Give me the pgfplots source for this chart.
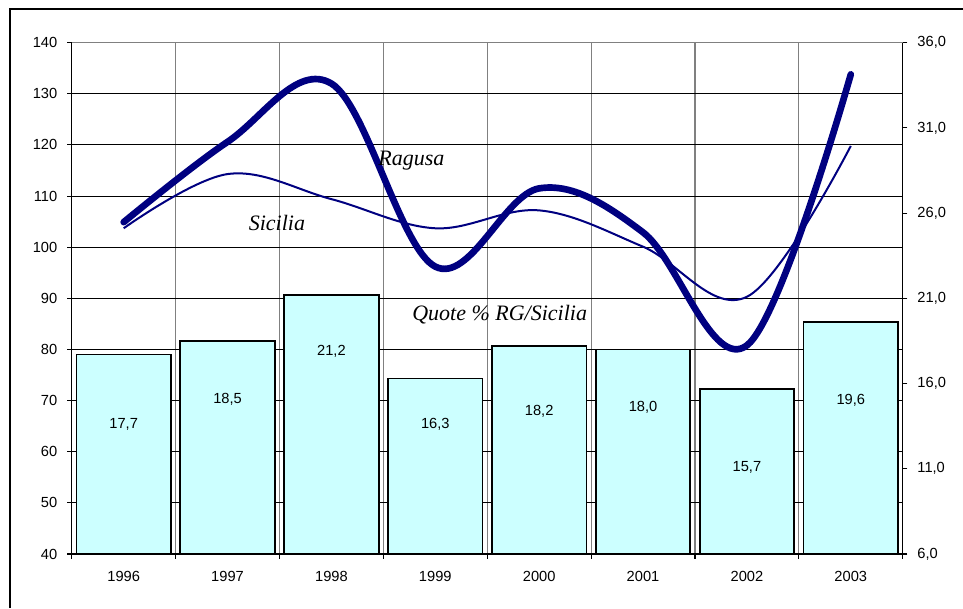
\documentclass[border=0pt]{standalone}
\usepackage{pgfplots}
\pgfplotsset{compat=1.18}
\usepackage{pgfplotstable}
\usepackage{fontspec}
\setmainfont{Liberation Sans}
\newfontfamily\serifit{Liberation Serif}
\definecolor{Navy}{HTML}{000080}
\definecolor{BarFill}{HTML}{CCFFFF}

% indici Ragusa / Sicilia (asse sinistro)
\pgfplotstableread{
x rg sic
0 104.9 103.7
1 120.6 114.3
2 132.0 109.4
3 96.2 103.7
4 111.5 107.2
5 102.9 100.1
6 80.8 90.3
7 133.8 119.8
}\lines

% quote % RG/Sicilia (asse destro), pos = altezza etichetta
\pgfplotstableread{
x quota pos
0 17.7 13.63
1 18.5 15.08
2 21.2 17.87
3 16.3 13.63
4 18.2 14.35
5 18.0 14.59
6 15.7 11.09
7 19.6 15.04
}\quote

\begin{document}
\begin{tikzpicture}
\useasboundingbox (-53.8pt,-40.5pt) rectangle (668.45pt,415.5pt);
\pgfplotsset{base/.style={
  scale only axis, width=623.25pt, height=383.5pt,
  xmin=-0.5, xmax=7.5,
  ticklabel style={font=\fontsize{11}{13}\selectfont},
  /pgf/number format/assume math mode=true,
  tick align=outside, major tick length=3.5pt,
  axis line style={-, black, line width=1pt},
  tick style={black, line width=0.8pt},
}}

% griglia e asse sinistro
\begin{axis}[base,
  ymin=40, ymax=140, ytick={40,50,...,140},
  axis x line*=bottom, axis y line*=left,
  yticklabel style={xshift=-3.8pt},
  xtick={0,...,7},
  xticklabels={1996,1997,1998,1999,2000,2001,2002,2003},
  xticklabel style={yshift=-6pt},
  major x tick style={draw=none},
  minor xtick={-0.5,0.5,...,7.5},
  minor tick length=3.5pt,
  minor x tick style={black, line width=0.8pt},
  xminorgrids, minor x grid style={gray, line width=0.8pt},
  ymajorgrids, major y grid style={black, line width=0.8pt},
]
\end{axis}

% barre, asse destro
\begin{axis}[base,
  ymin=6, ymax=36, ytick={6,11,...,36},
  axis y line*=right, axis x line=none,
  yticklabel style={xshift=4pt, /pgf/number format/.cd, fixed, fixed zerofill, precision=1, use comma},
]
\addplot[ybar, bar width=0.91, fill=BarFill, draw=black, line width=1.3pt]
  table[x=x, y=quota] {\quote};
\addplot[draw=none, mark=none, point meta=explicit,
  nodes near coords={\pgfmathprintnumber[fixed, fixed zerofill, precision=1, use comma]{\pgfplotspointmeta}},
  nodes near coords align=center,
  every node near coord/.append style={font=\fontsize{11}{13}\selectfont, anchor=center}]
  table[x=x, y=pos, meta=quota] {\quote};
\end{axis}

% linee
\begin{axis}[base, ymin=40, ymax=140, hide axis, clip=false]
\draw[gray, line width=0.8pt] (rel axis cs:0,1) -- (rel axis cs:1,1);
\addplot[Navy, line width=5pt, smooth, tension=0.6, line cap=round, line join=round]
  table[x=x, y=rg] {\lines};
\addplot[Navy, line width=1.5pt, smooth, tension=0.6]
  table[x=x, y=sic] {\lines};
\node[anchor=base, font=\serifit\itshape\fontsize{16.5}{18}\selectfont] at (axis cs:2.77,115.9) {Ragusa};
\node[anchor=base, font=\serifit\itshape\fontsize{16.5}{18}\selectfont] at (axis cs:1.475,103.35) {Sicilia};
\node[anchor=base, font=\serifit\itshape\fontsize{16.5}{18}\selectfont] at (axis cs:3.62,85.7) {Quote \% RG/Sicilia};
\end{axis}

\draw[line width=1pt] (-46.3pt,-40.5pt) -- (-46.3pt,408.75pt) -- (668.45pt,408.75pt);
\end{tikzpicture}
\end{document}
